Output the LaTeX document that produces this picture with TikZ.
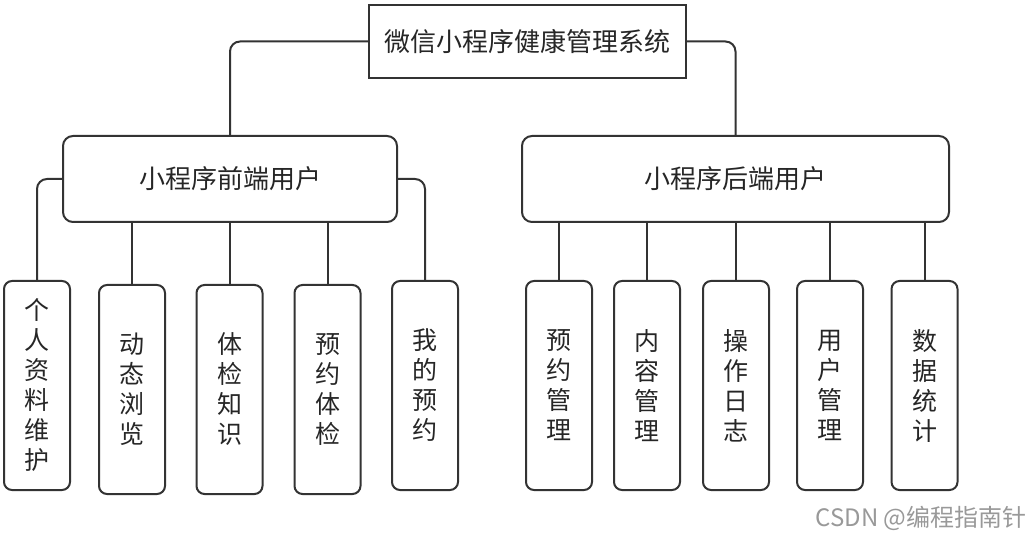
\documentclass[tikz,border=0pt]{standalone}
\usepackage{fontspec}
\setmainfont{Noto Sans CJK SC}
\begin{document}
\begin{tikzpicture}[x=0.5pt, y=-0.5pt,
    root/.style={draw=black!80, line width=1pt, minimum width=158.5pt, minimum height=36.5pt, text=black!85, font=\fontsize{13}{15}\selectfont},
    group/.style={draw=black!80, line width=1pt, rounded corners=5pt, minimum height=43pt, text=black!85, font=\fontsize{13}{15}\selectfont},
    leaf/.style={draw=black!80, line width=1pt, rounded corners=4pt, minimum width=33pt, minimum height=104.5pt, inner sep=0pt, align=center, text=black!85, font=\fontsize{12.5}{15}\selectfont},
    link/.style={draw=black!80, line width=1pt, rounded corners=5pt}]
    \useasboundingbox (0,0) rectangle (1031,549);
    % Top
    \node[root] (sys) at (527.5,41.5) {微信小程序健康管理系统};
    % Second level
    \node[group, minimum width=167pt] (fe) at (230,179) {小程序前端用户};
    \node[group, minimum width=213.5pt] (be) at (735.5,179) {小程序后端用户};
    \draw[link] (sys.west) -| (fe.north);
    \draw[link] (sys.east) -| (be.north);
    % Front end
    \node[leaf] (f1) at (37,385.5) {个\\人\\资\\料\\维\\护};
    \node[leaf] (f2) at (132,389.5) {动\\态\\浏\\览};
    \node[leaf] (f3) at (229.5,389.5) {体\\检\\知\\识};
    \node[leaf] (f4) at (327.5,389.5) {预\\约\\体\\检};
    \node[leaf] (f5) at (425,385.5) {我\\的\\预\\约};
    \draw[link] (fe.west) -| (f1.north);
    \draw[link] (fe.east) -| (f5.north);
    \foreach \n in {f2,f3,f4}
        \draw[link] (\n.north) -- (\n.north |- fe.south);
    % Back end
    \node[leaf] (b1) at (559,385.5) {预\\约\\管\\理};
    \node[leaf] (b2) at (647,385.5) {内\\容\\管\\理};
    \node[leaf] (b3) at (736,385.5) {操\\作\\日\\志};
    \node[leaf] (b4) at (830,385.5) {用\\户\\管\\理};
    \node[leaf] (b5) at (924.5,385.5) {数\\据\\统\\计};
    \foreach \n in {b1,b2,b3,b4,b5}
        \draw[link] (\n.north) -- (\n.north |- be.south);
    % Watermark
    \node[text=black!40, inner sep=0pt, font=\fontsize{12}{14}\selectfont, anchor=east] (mark) at (1027,518) {CSDN @编程指南针};
\end{tikzpicture}
\end{document}
